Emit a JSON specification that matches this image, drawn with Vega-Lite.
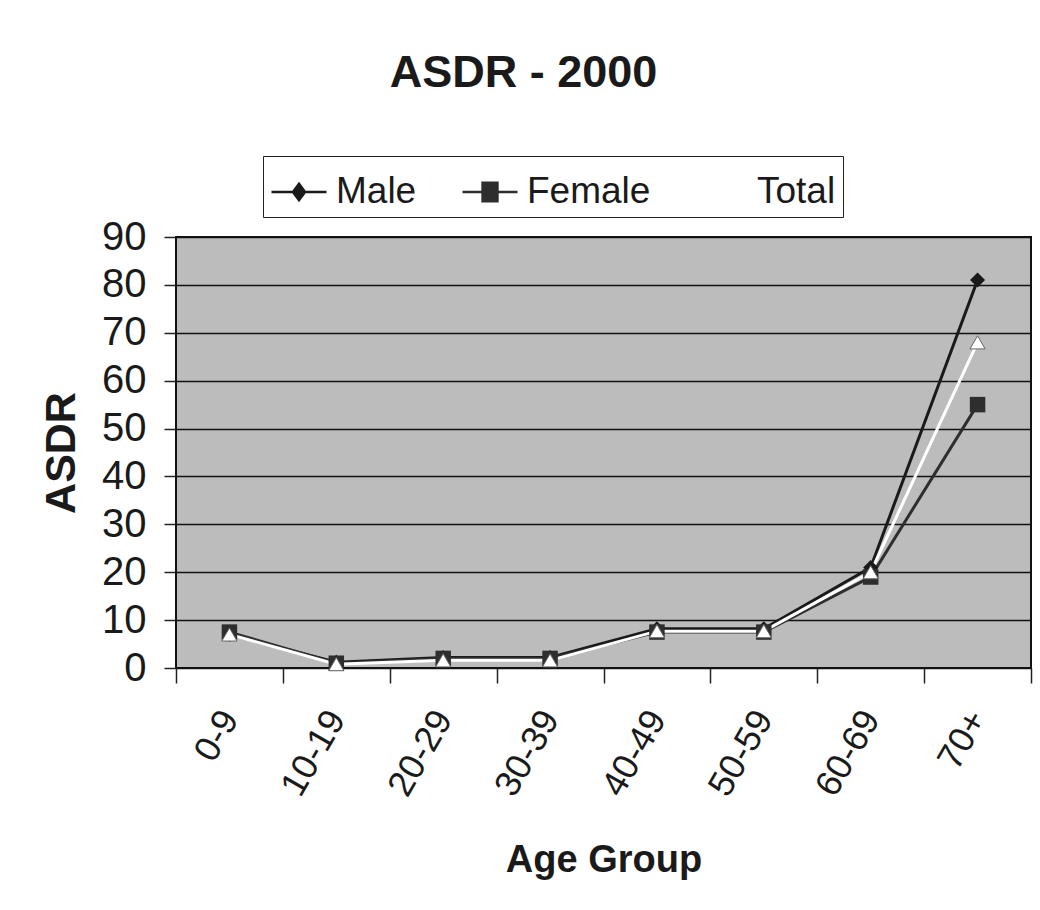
{
  "$schema": "https://vega.github.io/schema/vega-lite/v6.json",
  "width": 855,
  "height": 431,
  "padding": {"left": 40, "top": 50, "right": 8, "bottom": 10},
  "background": "white",
  "title": {
    "text": "ASDR - 2000",
    "font": "Liberation Sans",
    "fontSize": 45,
    "fontWeight": "bold",
    "color": "#1a1a1a",
    "anchor": "middle",
    "dx": -80,
    "offset": 60
  },
  "data": {
    "values": [
      {"age": "0-9", "series": "Male", "asdr": 7},
      {"age": "10-19", "series": "Male", "asdr": 1.2},
      {"age": "20-29", "series": "Male", "asdr": 2.2},
      {"age": "30-39", "series": "Male", "asdr": 2.2},
      {"age": "40-49", "series": "Male", "asdr": 8.2},
      {"age": "50-59", "series": "Male", "asdr": 8.2},
      {"age": "60-69", "series": "Male", "asdr": 21},
      {"age": "70+", "series": "Male", "asdr": 81},
      {"age": "0-9", "series": "Female", "asdr": 7.5},
      {"age": "10-19", "series": "Female", "asdr": 1},
      {"age": "20-29", "series": "Female", "asdr": 2},
      {"age": "30-39", "series": "Female", "asdr": 2},
      {"age": "40-49", "series": "Female", "asdr": 7.5},
      {"age": "50-59", "series": "Female", "asdr": 7.5},
      {"age": "60-69", "series": "Female", "asdr": 19},
      {"age": "70+", "series": "Female", "asdr": 55},
      {"age": "0-9", "series": "Total", "asdr": 7},
      {"age": "10-19", "series": "Total", "asdr": 0.8},
      {"age": "20-29", "series": "Total", "asdr": 1.6},
      {"age": "30-39", "series": "Total", "asdr": 1.6},
      {"age": "40-49", "series": "Total", "asdr": 7.7},
      {"age": "50-59", "series": "Total", "asdr": 7.7},
      {"age": "60-69", "series": "Total", "asdr": 20},
      {"age": "70+", "series": "Total", "asdr": 68}
    ]
  },
  "encoding": {
    "x": {
      "field": "age",
      "type": "ordinal",
      "sort": null,
      "bandPosition": 0.5,
      "scale": {"type": "band", "paddingInner": 0, "paddingOuter": 0},
      "axis": {
        "title": "Age Group",
        "titleFont": "Liberation Sans",
        "titleFontSize": 38,
        "titleFontWeight": "bold",
        "titleColor": "#1a1a1a",
        "titlePadding": 40,
        "labelFont": "Liberation Sans",
        "labelFontSize": 36,
        "labelColor": "#1a1a1a",
        "labelAngle": -60,
        "labelAlign": "right",
        "labelBaseline": "middle",
        "labelPadding": 30,
        "tickBand": "extent",
        "tickSize": 15,
        "tickColor": "#222",
        "tickWidth": 1.5,
        "domain": false,
        "grid": false
      }
    },
    "y": {
      "field": "asdr",
      "type": "quantitative",
      "scale": {"domain": [0, 90], "nice": false},
      "axis": {
        "title": "ASDR",
        "titleFont": "Liberation Sans",
        "titleFontSize": 43,
        "titleFontWeight": "bold",
        "titleColor": "#1a1a1a",
        "titlePadding": 18,
        "values": [0, 10, 20, 30, 40, 50, 60, 70, 80, 90],
        "labelFont": "Liberation Sans",
        "labelFontSize": 40,
        "labelColor": "#1a1a1a",
        "labelPadding": 18,
        "tickSize": 12,
        "tickColor": "#222",
        "tickWidth": 1.5,
        "domain": false,
        "grid": true,
        "gridColor": "#111",
        "gridWidth": 1.5,
        "gridOpacity": 1
      }
    }
  },
  "layer": [
    {
      "mark": {"type": "line", "strokeWidth": 3},
      "encoding": {
        "color": {
          "field": "series",
          "type": "nominal",
          "sort": ["Male", "Female", "Total"],
          "scale": {"domain": ["Male", "Female", "Total"], "range": ["#1a1a1a", "#2e2e2e", "#ffffff"]},
          "legend": {
            "title": null,
            "orient": "none",
            "legendX": 87,
            "legendY": -81,
            "direction": "horizontal",
            "strokeColor": "#222",
            "fillColor": "white",
            "padding": 7,
            "labelFont": "Liberation Sans",
            "labelFontSize": 37,
            "labelColor": "#1a1a1a",
            "labelOffset": 8,
            "symbolSize": 3025,
            "symbolStrokeWidth": 2.5,
            "symbolStrokeColor": "#1a1a1a",
            "symbolOpacity": 1,
            "columnPadding": 40,
            "labelLimit": 400
          }
        }
      }
    },
    {
      "transform": [{"filter": "datum.asdr < 0"}],
      "mark": {"type": "point", "filled": true, "opacity": 0},
      "encoding": {
        "color": {"field": "series", "type": "nominal", "sort": ["Male", "Female", "Total"]},
        "shape": {
          "field": "series",
          "type": "nominal",
          "sort": ["Male", "Female", "Total"],
          "scale": {
            "domain": ["Male", "Female", "Total"],
            "range": [
              "M-1,0H1M0,-0.3L0.22,0L0,0.3L-0.22,0Z",
              "M-1,0H1M-0.27,-0.34H0.27V0.34H-0.27Z",
              "M0,0"
            ]
          }
        },
        "stroke": {"value": "#1a1a1a"}
      }
    },
    {
      "transform": [{"filter": "datum.series === 'Male'"}],
      "mark": {"type": "point", "shape": "diamond", "filled": true, "opacity": 1, "size": 225, "color": "#1a1a1a"}
    },
    {
      "transform": [{"filter": "datum.series === 'Female'"}],
      "mark": {"type": "point", "shape": "square", "filled": true, "opacity": 1, "size": 240, "color": "#2e2e2e"}
    },
    {
      "transform": [{"filter": "datum.series === 'Total'"}],
      "mark": {"type": "point", "shape": "triangle-up", "filled": true, "opacity": 1, "size": 230, "fill": "#ffffff", "stroke": "#666", "strokeWidth": 1}
    }
  ],
  "config": {
    "view": {"fill": "#bcbcbc", "stroke": "#111", "strokeWidth": 2}
  }
}
